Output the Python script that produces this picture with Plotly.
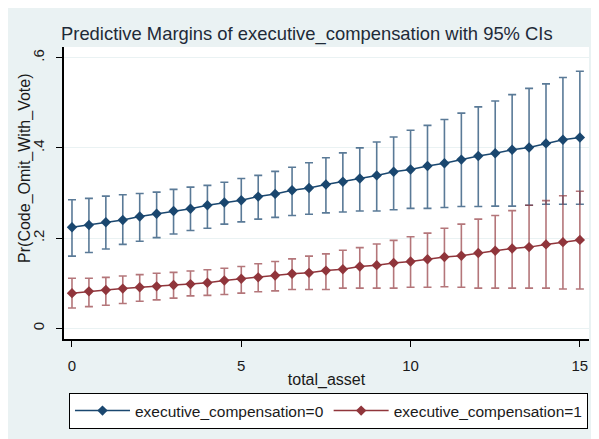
import plotly.graph_objects as go

# total_asset grid (0 to 15 by 0.5)
total_asset = [0, 0.5, 1, 1.5, 2, 2.5, 3, 3.5, 4, 4.5, 5, 5.5, 6, 6.5, 7, 7.5,
               8, 8.5, 9, 9.5, 10, 10.5, 11, 11.5, 12, 12.5, 13, 13.5, 14, 14.5, 15]

# executive_compensation=0
margin_0 = [0.224, 0.229, 0.235, 0.240, 0.248, 0.254, 0.260, 0.265, 0.273, 0.279, 0.284,
            0.292, 0.298, 0.306, 0.311, 0.319, 0.325, 0.332, 0.339, 0.347, 0.352, 0.360,
            0.366, 0.374, 0.382, 0.388, 0.396, 0.401, 0.410, 0.418, 0.423]
upper_0 = [0.285, 0.288, 0.293, 0.296, 0.299, 0.302, 0.308, 0.313, 0.317, 0.324, 0.332,
           0.339, 0.348, 0.357, 0.367, 0.378, 0.389, 0.400, 0.413, 0.424, 0.439, 0.450,
           0.463, 0.477, 0.491, 0.504, 0.518, 0.532, 0.542, 0.556, 0.570]
lower_0 = [0.160, 0.168, 0.176, 0.186, 0.193, 0.201, 0.209, 0.217, 0.222, 0.231, 0.236,
           0.242, 0.246, 0.250, 0.253, 0.256, 0.258, 0.260, 0.260, 0.263, 0.266, 0.266,
           0.268, 0.270, 0.270, 0.271, 0.271, 0.273, 0.275, 0.275, 0.275]

# executive_compensation=1
margin_1 = [0.078, 0.082, 0.085, 0.088, 0.091, 0.093, 0.096, 0.098, 0.101, 0.106, 0.110,
            0.113, 0.117, 0.121, 0.123, 0.128, 0.131, 0.137, 0.140, 0.145, 0.148, 0.153,
            0.158, 0.161, 0.167, 0.172, 0.177, 0.180, 0.186, 0.191, 0.196]
upper_1 = [0.111, 0.111, 0.113, 0.116, 0.119, 0.122, 0.124, 0.127, 0.130, 0.133, 0.137,
           0.143, 0.148, 0.154, 0.160, 0.165, 0.173, 0.179, 0.187, 0.195, 0.203, 0.211,
           0.222, 0.231, 0.242, 0.250, 0.261, 0.273, 0.283, 0.294, 0.304]
lower_1 = [0.045, 0.048, 0.051, 0.055, 0.060, 0.063, 0.067, 0.072, 0.073, 0.075, 0.078,
           0.081, 0.083, 0.086, 0.086, 0.086, 0.089, 0.089, 0.089, 0.089, 0.091, 0.091,
           0.092, 0.091, 0.089, 0.089, 0.089, 0.089, 0.089, 0.087, 0.087]

y_ticks = [0, 0.2, 0.4, 0.6]
y_tick_labels = ["0", ".2", ".4", ".6"]
x_ticks = [0, 5, 10, 15]

navy = "#1A476F"
maroon = "#90353B"
bg = "#EAF2F3"
text_col = "#1a1a1a"
font_family = "Liberation Sans, Arial, sans-serif"

# page has an 8px body margin; figure is sized so that it fills the rest of the window
W, H = 591, 431


def add_series(fig, m, up, lo, color, bar_color, name):
    fig.add_trace(go.Scatter(
        x=total_asset,
        y=m,
        mode="lines+markers",
        name=name,
        line=dict(color=color, width=1.5),
        marker=dict(symbol="diamond", size=8, color=color),
        error_y=dict(
            type="data",
            symmetric=False,
            array=[u - v for u, v in zip(up, m)],
            arrayminus=[v - l for v, l in zip(m, lo)],
            color=bar_color,
            thickness=1.6,
            width=4,
        ),
    ))


fig = go.Figure()
add_series(fig, margin_0, upper_0, lower_0, navy, "rgba(26,71,111,0.72)", "executive_compensation=0")
add_series(fig, margin_1, upper_1, lower_1, maroon, "rgba(144,53,59,0.68)", "executive_compensation=1")

# y title sits a bit above the axis middle, as in the original (Stata) graph
fig.add_annotation(
    text="Pr(Code_Omit_With_Vote)",
    textangle=-90,
    xref="paper", yref="paper",
    x=-0.074, y=0.583,
    xanchor="center", yanchor="middle",
    showarrow=False,
    font=dict(size=16, color=text_col),
)

fig.update_layout(
    width=W,
    height=H,
    margin=dict(l=56, r=10, t=39, b=92),
    paper_bgcolor=bg,
    plot_bgcolor="white",
    font=dict(family=font_family, size=15, color=text_col),
    title=dict(
        text="Predictive Margins of executive_compensation with 95% CIs",
        font=dict(size=18.4, color="#1E2A38"),
        x=53 / W, xanchor="left", xref="container",
        y=1 - 26 / H, yanchor="middle", yref="container",
    ),
    xaxis=dict(
        range=[-0.236, 15.27],
        tickvals=x_ticks,
        ticks="outside", ticklen=6, tickwidth=1.2, tickcolor="black",
        showline=True, linecolor="black", linewidth=1.5,
        showgrid=False, zeroline=False,
        tickfont=dict(size=15, color=text_col),
        ticklabelstandoff=6,
        title=dict(text="total_asset", font=dict(size=16), standoff=1),
    ),
    yaxis=dict(
        range=[-0.0237, 0.6237],
        tickvals=y_ticks,
        ticktext=y_tick_labels,
        tickangle=-90,
        ticks="outside", ticklen=6, tickwidth=1.2, tickcolor="black",
        showline=True, linecolor="black", linewidth=1.5,
        showgrid=True, gridcolor=bg, gridwidth=1,
        zeroline=False,
        tickfont=dict(size=15, color=text_col),
        ticklabelstandoff=6,
    ),
    legend=dict(
        orientation="h",
        x=0.0095, xanchor="left",
        y=-0.185, yanchor="top",
        bgcolor="white",
        bordercolor="black",
        borderwidth=1,
        itemwidth=55,
        font=dict(size=15.5, color=text_col),
    ),
)

fig.write_html("out.html")
